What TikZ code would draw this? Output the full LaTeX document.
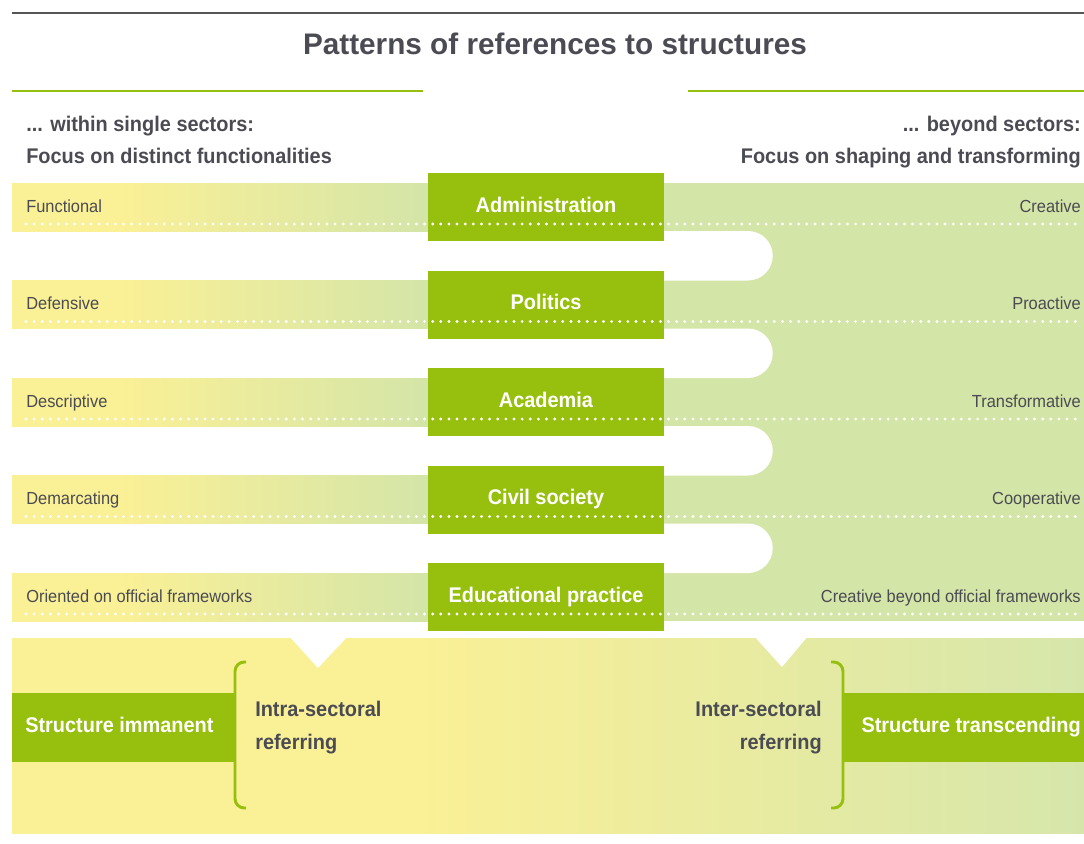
\documentclass[tikz,border=0pt]{standalone}
\usepackage{fontspec}
\setmainfont{Liberation Sans}[FakeStretch=0.94]
\newfontfamily\titlefont{Liberation Sans}
\usepackage{tikz}

\definecolor{boxgreen}{HTML}{97BF0D}
\definecolor{lightgreen}{HTML}{D4E5A8}
\definecolor{panelgreen}{HTML}{D6E6AB}
\definecolor{paleyellow}{HTML}{FAF096}
\definecolor{textgray}{HTML}{4B4B53}
\definecolor{linegray}{HTML}{555555}

\pgfdeclarehorizontalshading{bandshade}{100bp}{color(0bp)=(paleyellow); color(25bp)=(paleyellow); color(38bp)=(paleyellow); color(75bp)=(lightgreen); color(100bp)=(lightgreen)}
\pgfdeclarehorizontalshading{panelshade}{100bp}{color(0bp)=(paleyellow); color(25bp)=(paleyellow); color(44bp)=(paleyellow); color(75bp)=(panelgreen); color(100bp)=(panelgreen)}

\begin{document}
\begin{tikzpicture}[x=0.75pt,y=-0.75pt,
    sector/.style={fill=boxgreen, text=white, font=\bfseries\fontsize{15.9}{18}\selectfont,
      minimum width=177pt, minimum height=51pt, inner sep=0pt, text height=11pt, text depth=3.5pt},
    small label/.style={text=textgray, font=\fontsize{13.1}{15}\selectfont, inner sep=0pt},
    bold label/.style={text=textgray, font=\bfseries\fontsize{15.9}{18}\selectfont, inner sep=0pt},
    white label/.style={text=white, font=\bfseries\fontsize{15.9}{18}\selectfont, inner sep=0pt},
    dotline/.style={white, line width=2.4pt, line cap=round, dash pattern=on 0pt off 6.1pt},
    bracket/.style={boxgreen, line width=2.2pt, rounded corners=7pt}]
  \useasboundingbox (0,0) rectangle (1084,843);

  % title and rules
  \draw[linegray, line width=2pt] (12,13) -- (1084,13);
  \node[text=textgray, font=\titlefont\bfseries\fontsize{22.3}{26}\selectfont, inner sep=0pt, anchor=base] (title) at (555,54) {Patterns of references to structures};
  \draw[boxgreen, line width=2pt] (12,91) -- (423,91);
  \draw[boxgreen, line width=2pt] (688,91) -- (1084,91);

  \node[bold label, anchor=base west] (within) at (26,131) {... within single sectors:};
  \node[bold label, anchor=base west] (distinct) at (26,163) {Focus on distinct functionalities};
  \node[bold label, anchor=base east] (beyond) at (1081,131) {... beyond sectors:};
  \node[bold label, anchor=base east] (shaping) at (1081,163) {Focus on shaping and transforming};

  % right side field with white tabs
  \fill[lightgreen] (664,183) rectangle (1084,621);
  \foreach \t in {173,270.5,368,465.5}
    \fill[white] (640,\t+58) -- (748,\t+58) arc[start angle=-90, end angle=90, radius=24.75] -- (640,\t+107.5) -- cycle;

  % rows
  \foreach \i/\t/\sect/\lft/\rgt in {1/173/Administration/Functional/Creative,
      2/270.5/Politics/Defensive/Proactive,
      3/368/Academia/Descriptive/Transformative,
      4/465.5/Civil society/Demarcating/Cooperative,
      5/563/Educational practice/Oriented on official frameworks/Creative beyond official frameworks}{
    \shade[shading=bandshade] (12,\t+10) rectangle (428,\t+58);
    \node[sector] (sector\i) at (546,\t+34) {\sect};
    \draw[dotline] (26,\t+51) -- (1082,\t+51);
    \node[small label, anchor=base west] (left\i) at (26,\t+39) {\lft};
    \node[small label, anchor=base east] (right\i) at (1081,\t+39) {\rgt};
  }

  % bottom panel
  \shade[shading=panelshade] (12,638) rectangle (1084,833);
  \fill[white] (289,636) -- (348,636) -- (318,668) -- cycle;
  \fill[white] (754,636) -- (808,636) -- (782,667) -- cycle;

  \fill[boxgreen] (12,693) rectangle (234,762);
  \node[white label, anchor=base west] (immanent) at (25,732) {Structure immanent};
  \draw[bracket] (246,662) -- (235,662) -- (235,808) -- (246,808);
  \node[bold label, anchor=base west] (intra) at (255,716) {Intra-sectoral};
  \node[bold label, anchor=base west] (intraref) at (255,749) {referring};

  \fill[boxgreen] (843,693) rectangle (1084,762);
  \node[white label, anchor=base east] (transcending) at (1081,732) {Structure transcending};
  \draw[bracket] (831,662) -- (843,662) -- (843,808) -- (831,808);
  \node[bold label, anchor=base east] (inter) at (822,716) {Inter-sectoral};
  \node[bold label, anchor=base east] (interref) at (822,749) {referring};
\end{tikzpicture}
\end{document}
